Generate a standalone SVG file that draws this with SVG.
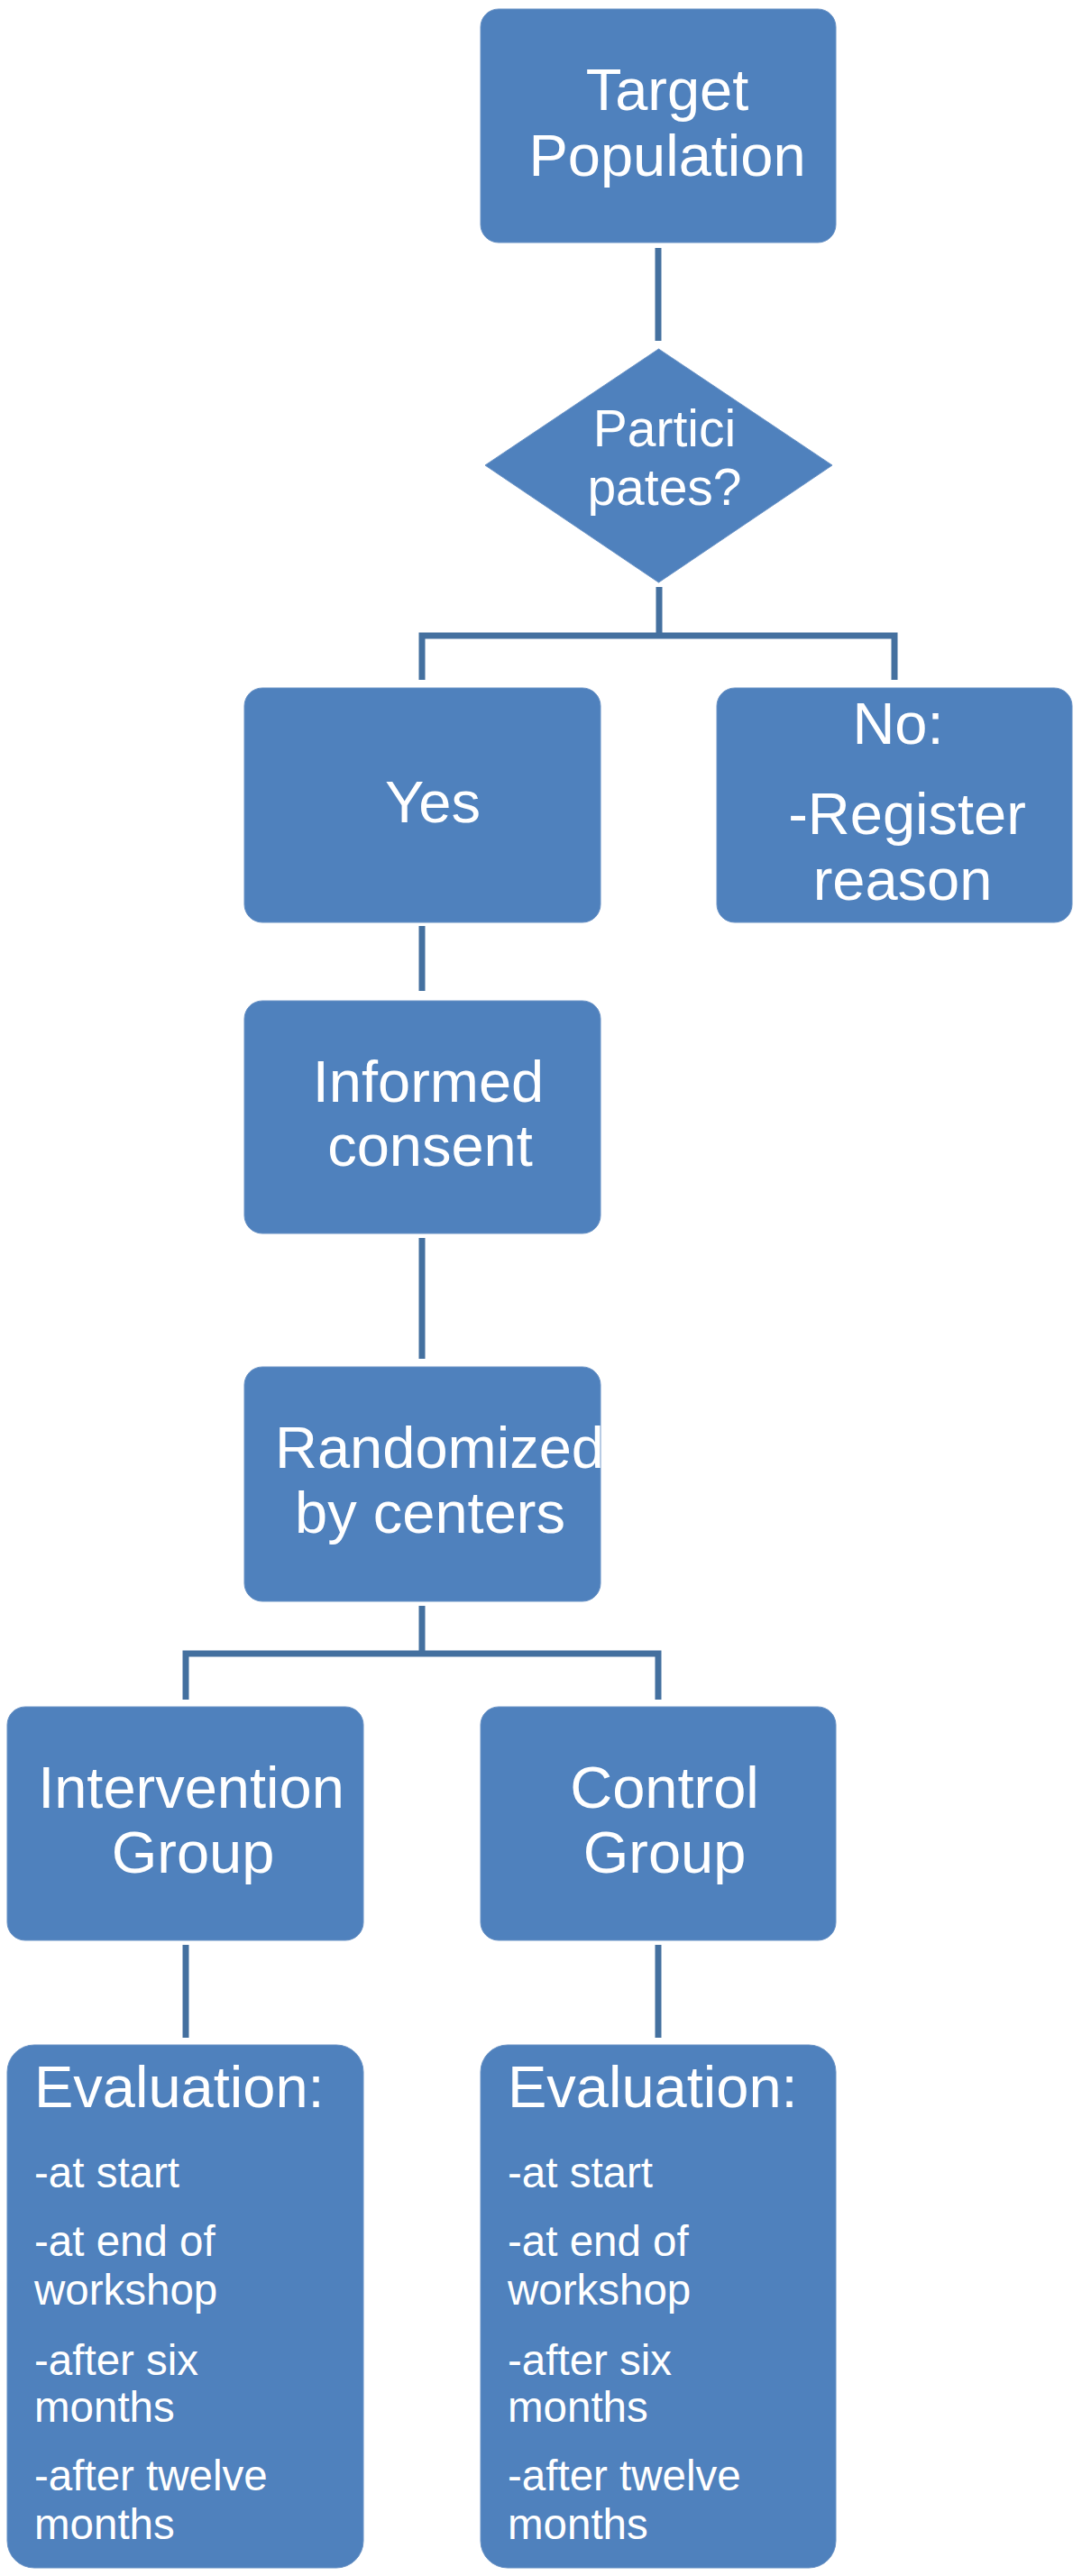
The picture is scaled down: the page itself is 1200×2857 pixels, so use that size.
<svg xmlns="http://www.w3.org/2000/svg" width="1200" height="2857" viewBox="0 0 1200 2857">
<style>
.box{fill:#4f81bd;stroke:#6a93c6;stroke-width:1}
.t{font-family:"Liberation Sans",Arial,sans-serif;fill:#ffffff;font-size:65px}
.c{text-anchor:middle}
.s{font-size:47.5px}
.d{font-size:57px}
.con{stroke:#44709f;stroke-width:7;fill:none;stroke-linecap:butt}
</style>
<defs>
<clipPath id="clipRand"><rect x="271" y="1516" width="395" height="260" rx="20"/></clipPath>
</defs>
<rect width="1200" height="2857" fill="#ffffff"/>
<g id="connectors">
<path class="con" d="M730 275V378"/>
<path class="con" d="M731 651V705M464.5 705H995.5M468 705V754M992 705V754"/>
<path class="con" d="M468 1027V1099"/>
<path class="con" d="M468 1373V1507"/>
<path class="con" d="M468 1781V1834M202.5 1834H733.5M206 1834V1885M730 1834V1885"/>
<path class="con" d="M206 2157V2260"/>
<path class="con" d="M730 2157V2260"/>
</g>
<g id="target">
<rect class="box" x="533" y="10" width="394" height="259" rx="20"/>
<text class="t c" x="740" y="122">Target</text>
<text class="t c" x="740" y="195">Population</text>
</g>
<g id="participates">
<polygon class="box" points="730.5,387 923,516 730.5,646 538,516"/>
<text class="t d c" x="737" y="495">Partici</text>
<text class="t d c" x="737" y="560">pates?</text>
</g>
<g id="yes">
<rect class="box" x="271" y="763" width="395" height="260" rx="20"/>
<text class="t c" x="480" y="912">Yes</text>
</g>
<g id="no">
<rect class="box" x="795" y="763" width="394" height="260" rx="20"/>
<text class="t c" x="996" y="825">No:</text>
<text class="t c" x="1006" y="925">-Register</text>
<text class="t c" x="1001" y="998">reason</text>
</g>
<g id="consent">
<rect class="box" x="271" y="1110" width="395" height="258" rx="20"/>
<text class="t c" x="475" y="1222">Informed</text>
<text class="t c" x="477" y="1293">consent</text>
</g>
<g id="randomized">
<rect class="box" x="271" y="1516" width="395" height="260" rx="20"/>
<text class="t" x="305" y="1628" clip-path="url(#clipRand)">Randomized</text>
<text class="t c" x="477" y="1700">by centers</text>
</g>
<g id="intervention">
<rect class="box" x="8" y="1893" width="395" height="259" rx="20"/>
<text class="t c" x="212" y="2005">Intervention</text>
<text class="t c" x="214" y="2077">Group</text>
</g>
<g id="control">
<rect class="box" x="533" y="1893" width="394" height="259" rx="20"/>
<text class="t c" x="737" y="2005">Control</text>
<text class="t c" x="737" y="2077">Group</text>
</g>
<g id="eval-intervention">
<rect class="box" x="8" y="2268" width="395" height="580" rx="30"/>
<text class="t" x="38" y="2337">Evaluation:</text>
<text class="t s" x="38" y="2426">-at start</text>
<text class="t s" x="38" y="2502">-at end of</text>
<text class="t s" x="38" y="2556">workshop</text>
<text class="t s" x="38" y="2634">-after six</text>
<text class="t s" x="38" y="2686">months</text>
<text class="t s" x="38" y="2762">-after twelve</text>
<text class="t s" x="38" y="2816">months</text>
</g>
<g id="eval-control">
<rect class="box" x="533" y="2268" width="394" height="580" rx="30"/>
<text class="t" x="563" y="2337">Evaluation:</text>
<text class="t s" x="563" y="2426">-at start</text>
<text class="t s" x="563" y="2502">-at end of</text>
<text class="t s" x="563" y="2556">workshop</text>
<text class="t s" x="563" y="2634">-after six</text>
<text class="t s" x="563" y="2686">months</text>
<text class="t s" x="563" y="2762">-after twelve</text>
<text class="t s" x="563" y="2816">months</text>
</g>
</svg>
